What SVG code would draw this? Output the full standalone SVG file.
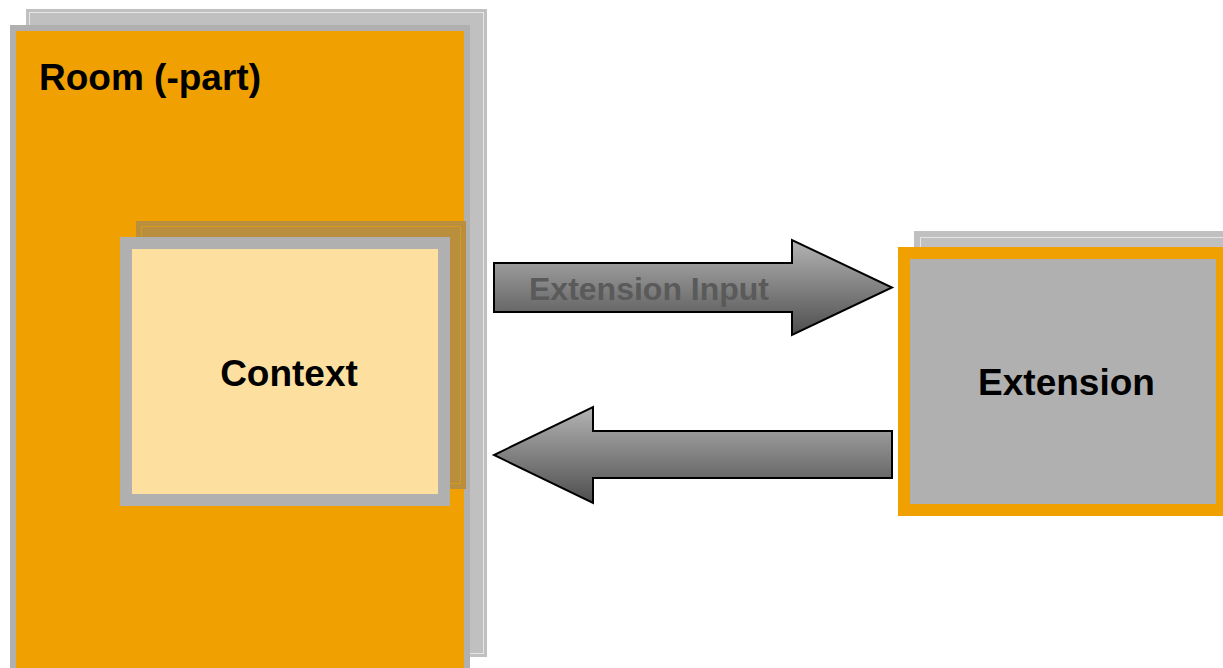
<svg xmlns="http://www.w3.org/2000/svg" width="1223" height="668" viewBox="0 0 1223 668">
<style>
.lbl{font-family:"Liberation Sans",Arial,sans-serif;font-weight:bold;fill:#000;font-size:37px;}
.shadow{fill:#c0c0c0;}
.shline{fill:none;stroke:#e6e6e6;stroke-width:1;}
.arrow{fill:url(#ag);stroke:#000;stroke-width:2;stroke-linejoin:miter;}
</style>
<defs>
<linearGradient id="ag" x1="0" y1="0" x2="0" y2="1">
<stop offset="0" stop-color="#b4b4b4"/>
<stop offset="1" stop-color="#4e4e4e"/>
</linearGradient>
</defs>
<rect width="1223" height="668" fill="#fff"/>
<g id="room">
<rect class="shadow" x="26" y="9" width="461" height="648"/>
<rect class="shline" x="29.5" y="12.5" width="454" height="641"/>
<rect x="10" y="25" width="460" height="660" fill="#b0b0b0"/>
<rect x="16" y="31" width="448" height="650" fill="#f0a000"/>
<text class="lbl" x="39" y="90">Room (-part)</text>
</g>
<g id="context">
<rect x="136" y="221" width="330" height="268" fill="#b98e3c"/>
<rect x="141.5" y="226.5" width="319" height="257" fill="none" stroke="#d49a20" stroke-width="1"/>
<rect x="120" y="237" width="330" height="269" fill="#b0b0b0"/>
<rect x="132" y="249" width="306" height="245" fill="#fde0a0"/>
<text class="lbl" x="289" y="386" text-anchor="middle">Context</text>
</g>
<g id="extension">
<rect class="shadow" x="914" y="231" width="320" height="270"/>
<rect class="shline" x="920.5" y="237.5" width="310" height="260"/>
<rect x="898" y="247" width="330" height="269" fill="#f0a000"/>
<rect x="910" y="259" width="306" height="245" fill="#b0b0b0"/>
<text class="lbl" x="1066.5" y="395" text-anchor="middle">Extension</text>
</g>
<g id="connectors">
<path class="arrow" d="M494,263 L792,263 L792,240 L892,287.5 L792,335 L792,312 L494,312 Z"/>
<text x="529" y="300" font-size="32" font-family="'Liberation Sans',Arial,sans-serif" font-weight="bold" fill="#5a5a5a">Extension Input</text>
<path class="arrow" d="M892,431 L593,431 L593,407 L494,455 L593,503 L593,478 L892,478 Z"/>
</g>
</svg>
